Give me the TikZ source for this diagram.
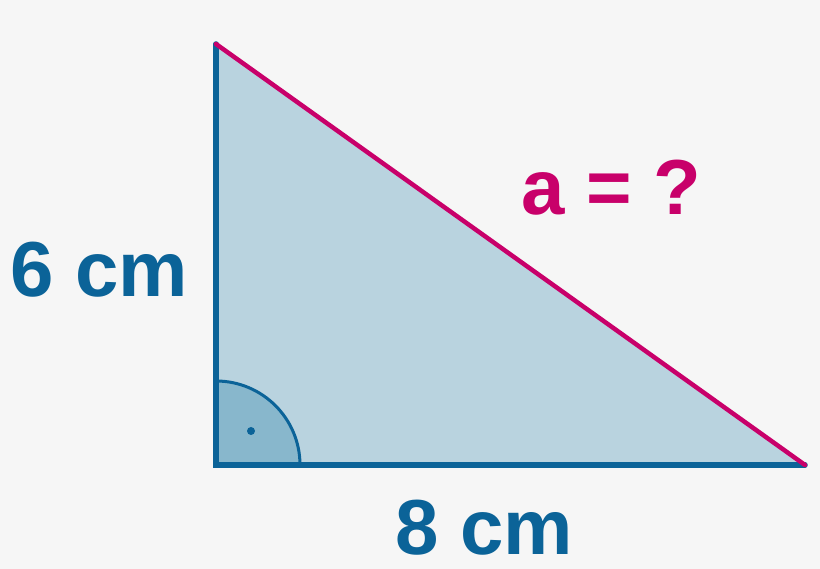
\documentclass[tikz,border=0pt]{standalone}
\usepackage{fontspec}
\setmainfont{Liberation Sans}
\usepackage{tikz}
\definecolor{legblue}{HTML}{0B6398}
\definecolor{hypred}{HTML}{C8006A}
\definecolor{trifill}{HTML}{B9D3DF}
\definecolor{angfill}{HTML}{88B7CC}
\definecolor{bg}{HTML}{F6F6F6}
\tikzset{lbl/.style={anchor=base west, inner sep=0pt, text depth=0pt, font=\fontsize{78}{90}\selectfont\bfseries}}

\begin{document}
\begin{tikzpicture}[x=1pt,y=1pt]

    \fill[bg] (0,0) rectangle (820,569);
    \useasboundingbox (0,0) rectangle (820,569);

    \coordinate (T) at (216,525);
    \coordinate (O) at (216,104);
    \coordinate (R) at (805,104);

    \fill[trifill] (T) -- (O) -- (R) -- cycle;
    \fill[angfill] (O) -- ++(84,0) arc (0:90:84) -- cycle;
    \draw[legblue, line width=3pt] (O) ++(84,0) arc (0:90:84);
    \fill[legblue] (251,138) circle (4);

    \draw[legblue, line width=5.5pt, line cap=round] (T) -- (O) -- (R);
    \draw[hypred, line width=4.5pt, line cap=round] (T) -- (R);

    \draw(10,272) node[lbl, legblue] (left) {6 cm};
    \draw(395,14) node[lbl, legblue] (bottom) {8 cm};
    \draw(521,354) node[lbl, hypred] (hyp) {a = ?};

\end{tikzpicture}
\end{document}
